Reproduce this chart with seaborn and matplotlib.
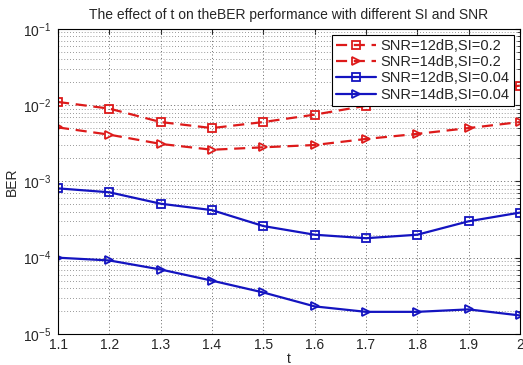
import numpy as np
import pandas as pd
import matplotlib
matplotlib.use("Agg")
import matplotlib.pyplot as plt
import seaborn as sns

t = [1.1, 1.2, 1.3, 1.4, 1.5, 1.6, 1.7, 1.8, 1.9, 2.0]
ber_12_02 = [0.011, 0.009, 0.006, 0.005, 0.006, 0.0075, 0.0098, 0.012, 0.015, 0.018]
ber_14_02 = [0.0051, 0.0041, 0.0031, 0.0026, 0.0028, 0.0030, 0.0036, 0.0042, 0.0050, 0.0060]
ber_12_004 = [0.00081, 0.00072, 0.00051, 0.00042, 0.00026, 0.00020, 0.00018, 0.00020, 0.00030, 0.00039]
ber_14_004 = [1.0e-4, 9.2e-5, 7.0e-5, 5.0e-5, 3.5e-5, 2.3e-5, 1.95e-5, 1.95e-5, 2.1e-5, 1.75e-5]
labels = ["SNR=12dB,SI=0.2", "SNR=14dB,SI=0.2", "SNR=12dB,SI=0.04", "SNR=14dB,SI=0.04"]

sns.set_style("white")
plt.rcParams['font.family'] = ['Liberation Sans', 'DejaVu Sans']
plt.rcParams['mathtext.fontset'] = 'custom'
plt.rcParams['mathtext.rm'] = 'Liberation Sans'
plt.rcParams['mathtext.it'] = 'Liberation Sans'

fig = plt.figure(figsize=(5.23, 3.65), dpi=100)
ax = fig.add_axes([0.111, 0.085, 0.883, 0.836])

red = "#dd1a1a"
blue = "#1414c0"
series = [(ber_12_02, red, (0, (5, 3)), "s"), (ber_14_02, red, (0, (5, 3)), ">"),
          (ber_12_004, blue, "-", "s"), (ber_14_004, blue, "-", ">")]
for (vals, col, ls, mk), lab in zip(series, labels):
    df = pd.DataFrame({"t": t, "BER": vals})
    sns.lineplot(data=df, x="t", y="BER", ax=ax, color=col, linestyle=ls,
                 marker=mk, markersize=6, markerfacecolor="none",
                 markeredgecolor=col, markeredgewidth=1.3, linewidth=1.6,
                 label=lab)

ax.set_yscale("log")
ax.set_ylim(1e-5, 1e-1)
ax.set_xlim(1.1, 2.0)
ax.set_xticks(t)
ax.set_xticklabels(["1.1", "1.2", "1.3", "1.4", "1.5", "1.6", "1.7", "1.8", "1.9", "2"])
ax.grid(True, which="major", axis="both", linestyle=(0, (1, 2.5)), color="#666666", linewidth=0.7)
ax.grid(True, which="minor", axis="y", linestyle=(0, (1, 2.5)), color="#777777", linewidth=0.6)
ax.tick_params(which="both", direction="in", labelsize=10, top=True, right=True)
ax.tick_params(axis="y", which="both", pad=5)
ax.tick_params(axis="x", which="both", pad=3)
ax.tick_params(axis="x", which="minor", bottom=False, top=False)
for s in ax.spines.values():
    s.set_color("black")
    s.set_linewidth(0.8)
ax.set_xlabel("t", fontsize=10, labelpad=0)
ax.set_ylabel("BER", fontsize=10, labelpad=3)
ax.set_title("The effect of t on theBER performance with different SI and SNR", fontsize=10, pad=7)
leg = ax.legend(loc="upper right", fontsize=10.5, frameon=True, fancybox=False,
                edgecolor="black", handlelength=2.7, borderpad=0.3, labelspacing=0.15,
                handletextpad=0.35, borderaxespad=0.4)
leg.get_frame().set_linewidth(0.8)
leg.get_frame().set_alpha(1)

fig.savefig("out.png", dpi=100)
